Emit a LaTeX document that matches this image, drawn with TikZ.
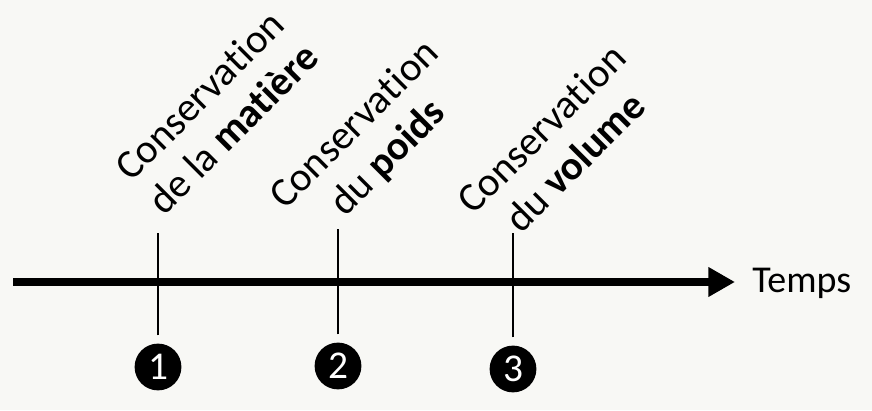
\documentclass[tikz,border=0pt]{standalone}
\usepackage{fontspec}
\setmainfont{Carlito}[RawFeature={-liga;-clig;-calt;-dlig}]
\usetikzlibrary{arrows.meta}
\definecolor{fond}{RGB}{248,248,245}
\newcommand{\cons}{Conservat\kern0.03em ion}
\tikzset{
	num/.style={circle,fill=black,text=white,inner sep=0pt,minimum size=1.17cm,font=\fontsize{28}{28}\selectfont},
	lab/.style={rotate=45,align=center,inner sep=0pt,font=\fontsize{29}{33.5}\selectfont},
	tick/.style={line width=0.9pt},
	axe/.style={line width=6pt,-{Triangle[length=19pt,width=20pt]}}
}
\begin{document}
\begin{tikzpicture}[x=1cm,y=1cm,line cap=butt]
	\fill[fond] (0,0) rectangle (21.8,10.25);
	\useasboundingbox (0,0) rectangle (21.8,10.25);
	\coordinate (start) at (0.325,3.2);
	\node[anchor=base west,inner sep=0pt,font=\fontsize{27}{27}\selectfont] (temps) at (18.8,2.925) {Temps};
	\draw[axe] (start) -- ([xshift=-0.425cm]temps.west |- start);
	\foreach \x/\c/\t/\n in {3.95/1.075/4.425/1, 8.45/1.1/4.525/2, 12.825/1.025/4.425/3}{
			\node[num] (n\n) at (\x,\c) {\n};
			\draw[tick] ([yshift=0.2cm]n\n.north) -- (\x,\t);%ticks
		}
	\node[lab] (c1) at (5.4,7.45) {\cons\\de la \textbf{matière}};
	\node[lab] (c2) at (9.3,6.7) {\cons\\du \textbf{poids}};
	\node[lab] (c3) at (13.95,6.62) {\cons\\du \textbf{volume}};
\end{tikzpicture}
\end{document}
